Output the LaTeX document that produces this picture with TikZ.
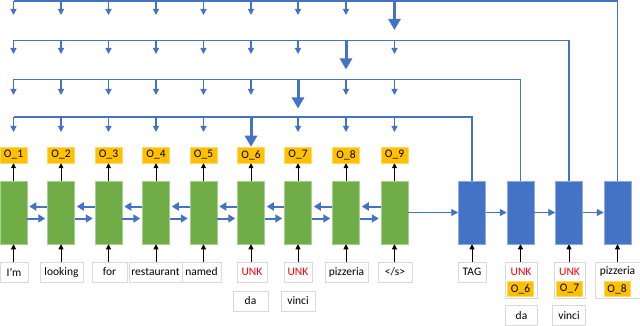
\documentclass[tikz,border=0pt]{standalone}
\usepackage{fontspec}
\setmainfont{Carlito}
\usepackage{tikz}
\usetikzlibrary{arrows.meta,positioning}
\definecolor{bleuBoite}{RGB}{68,114,196}
\definecolor{vertBoite}{RGB}{112,173,71}
\definecolor{orangeSortie}{RGB}{255,192,0}
\definecolor{grisCadre}{RGB}{217,217,217}

\begin{document}
\begin{tikzpicture}[x=1pt,y=-1pt,font=\fontsize{11.5}{12}\selectfont,
  enc/.style={rectangle,fill=vertBoite,draw=vertBoite!60!white,line width=0.5pt,
              minimum width=27,minimum height=63,inner sep=0pt},
  dec/.style={enc,fill=bleuBoite,draw=bleuBoite!60!white},
  sortie/.style={rectangle,fill=orangeSortie,draw=orangeSortie!60!white,line width=0.5pt,
                 minimum width=27,minimum height=16,inner sep=0pt},
  mot/.style={rectangle,draw=grisCadre,fill=white,line width=0.7pt,minimum height=20,inner sep=0pt},
  unk/.style={text=red,inner sep=0pt},
  noir/.style={-{Triangle[length=5pt,width=5pt]},black,line width=0.8pt},
  liaison/.style={-{Triangle[length=7pt,width=8pt]},bleuBoite,line width=2pt,shorten >=2pt},
  fleche/.style={-{Triangle[length=7pt,width=7pt]},bleuBoite,line width=1.2pt},
  boucle/.style={bleuBoite,line width=1.2pt},
  petite/.style={-{Triangle[length=6pt,width=6pt]},bleuBoite,line width=1.2pt},
  grosse/.style={-{Triangle[length=11pt,width=12pt]},bleuBoite,line width=3pt}]

  \useasboundingbox (0,0) rectangle (640,326);

  % encodeur
  \foreach \i/\x in {1/13.5,2/61,3/108.5,4/156,5/203.5,6/251,7/298,8/346,9/394.5}{
    \node[enc] (e\i) at (\x,212.5) {};
    \node[sortie] (o\i) at (\x,155) {O\_\i};
    \draw[noir] (e\i.north) -- (o\i.south);
  }
  \foreach \i/\j in {1/2,2/3,3/4,4/5,5/6,6/7,7/8,8/9}{
    \draw[liaison] ([yshift=6pt]e\j.west) -- ([yshift=6pt]e\i.east);
    \draw[liaison] ([yshift=-6pt]e\i.east) -- ([yshift=-6pt]e\j.west);
  }

  % mots en entree
  \node[mot,minimum width=28] (w1) at (14,272) {I'm};
  \node[mot,minimum width=43] (w2) at (61.5,272) {looking};
  \node[mot,minimum width=35] (w3) at (109.5,272) {for};
  \node[mot,minimum width=53] (w4) at (155.5,272) {restaurant};
  \node[mot,minimum width=39] (w5) at (201.5,272) {named};
  \node[mot,minimum width=30] (w6) at (252,272) {\textcolor{red}{UNK}};
  \node[mot,minimum width=28] (w7) at (298,272) {\textcolor{red}{UNK}};
  \node[mot,minimum width=43] (w8) at (346.5,272) {pizzeria};
  \node[mot,minimum width=34] (w9) at (395,272) {</s>};
  \node[mot,minimum width=35] (w6b) at (250.5,301) {da};
  \node[mot,minimum width=34] (w7b) at (298,301) {vinci};
  \foreach \i in {1,...,9}
    \draw[noir] (e\i |- w\i.north) -- (e\i.south);

  % decodeur
  \node[dec] (d1) at (472,212.5) {};
  \node[dec] (d2) at (520.5,212.5) {};
  \node[dec] (d3) at (569,212.5) {};
  \node[dec] (d4) at (617.5,212.5) {};
  \draw[fleche] (e9.east) -- (d1.west);
  \draw[fleche] (d1) -- (d2);
  \draw[fleche] (d2) -- (d3);
  \draw[fleche] (d3) -- (d4);

  \node[mot,minimum width=28] (t1) at (472,272) {TAG};
  \node[mot,minimum width=32,minimum height=36] (t2) at (521,280) {};
  \node[unk] (t2u) at (521,271.5) {UNK};
  \node[sortie,minimum width=26,minimum height=15] (t2o) at (520.5,289) {O\_6};
  \node[mot,minimum width=31,minimum height=36] (t3) at (569.5,280) {};
  \node[unk] (t3u) at (569.5,271.5) {UNK};
  \node[sortie,minimum width=26,minimum height=15] (t3o) at (569.5,289) {O\_7};
  \node[mot,minimum width=45,minimum height=36] (t4) at (617.5,280) {};
  \node[inner sep=0pt] (t4u) at (617.5,271.5) {pizzeria};
  \node[sortie,minimum width=26,minimum height=15] (t4o) at (617,289) {O\_8};
  \node[mot,minimum width=32] (t2b) at (521.5,315.5) {da};
  \node[mot,minimum width=33] (t3b) at (569,315.5) {vinci};
  \draw[noir] (t1.north) -- (d1.south);
  \draw[noir] (d2 |- t2.north) -- (d2.south);
  \draw[noir] (d3 |- t3.north) -- (d3.south);
  \draw[noir] (d4 |- t4.north) -- (d4.south);

  % boucles de retour
  \coordinate (b1) at (0,117);  \coordinate (f1) at (0,132);
  \coordinate (b2) at (0,79.5); \coordinate (f2) at (0,95);
  \coordinate (b3) at (0,40.5); \coordinate (f3) at (0,54);
  \coordinate (b4) at (0,1);    \coordinate (f4) at (0,15);
  \draw[boucle] (d1.north) |- (e1 |- b1);
  \draw[boucle] (d2.north) |- (e1 |- b2);
  \draw[boucle] (d3.north) |- (e1 |- b3);
  \draw[boucle] (d4.north) |- (e1 |- b4);
  \foreach \i in {1,2,3,4,5,7,8,9} \draw[petite] (e\i |- b1) -- (e\i |- f1);
  \foreach \i in {1,2,3,4,5,6,8,9} \draw[petite] (e\i |- b2) -- (e\i |- f2);
  \foreach \i in {1,2,3,4,5,6,7,9} \draw[petite] (e\i |- b3) -- (e\i |- f3);
  \foreach \i in {1,2,3,4,5,6,7,8} \draw[petite] (e\i |- b4) -- (e\i |- f4);
  \draw[grosse] (e6 |- b1) -- (o6.north);
  \draw[grosse] (e7 |- b2) -- ++(0,29);
  \draw[grosse] (e8 |- b3) -- ++(0,29);
  \draw[grosse] (e9 |- b4) -- ++(0,29);
\end{tikzpicture}
\end{document}
